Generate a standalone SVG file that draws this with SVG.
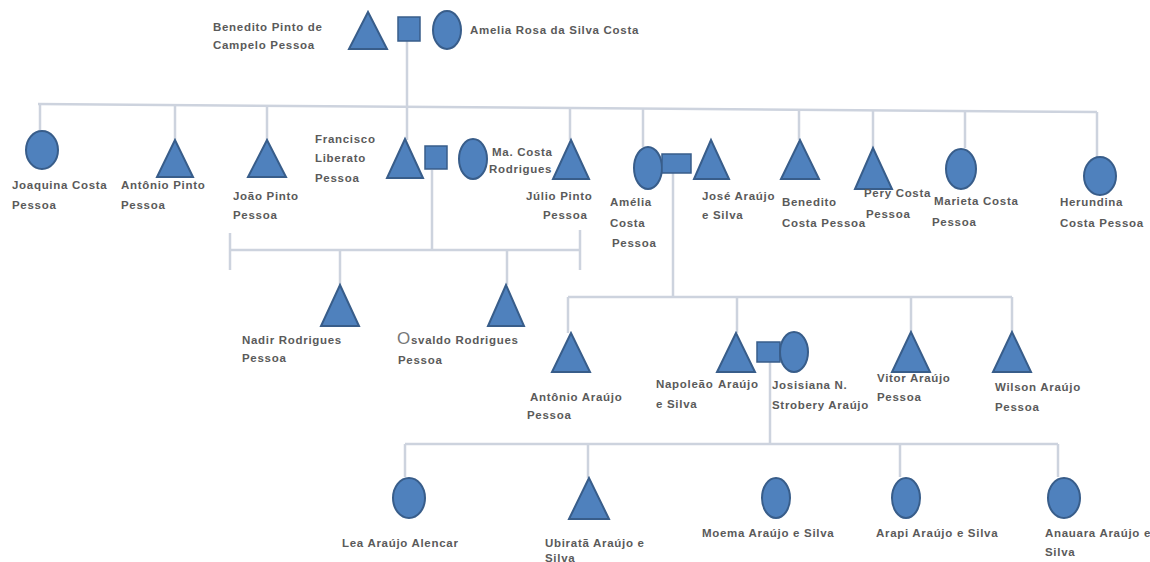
<svg xmlns="http://www.w3.org/2000/svg" width="1150" height="562" viewBox="0 0 1150 562">
<style>
.m{fill:#4f81bd;stroke:#385d8a;stroke-width:2}
.f{fill:#4f81bd;stroke:#385d8a;stroke-width:2}
.c{fill:#4f81bd;stroke:#385d8a;stroke-width:1.5}
.ln{stroke:#cdd3de;stroke-width:2.5;fill:none}
text{font-family:"Liberation Sans",Arial,sans-serif;font-size:11.5px;letter-spacing:0.7px;font-weight:bold;fill:#5a5a5a}
</style>
<rect width="1150" height="562" fill="#fff"/>
<g id="connectors">
<path class="ln" d="M407 40V140"/>
<path class="ln" d="M38 104L1097 112"/>
<path class="ln" d="M40 104V130M175 105V140M267 106V140M570 108V140M643 108V147M799 109V140M873 110V148M965 111V148M1097 112V157"/>
<path class="ln" d="M432 170V250M230 250H580M230 233V270M580 230V270M340 250V285M507 250V285"/>
<path class="ln" d="M673 172V297M568 297H1012M568 297V333M737 297V333M911 297V332M1012 297V332"/>
<path class="ln" d="M770 362V444M405 444H1058M405 444V477M588 444V478M900 444V477M1058 444V477"/>
</g>
<g id="n_benedito"><polygon class="m" points="368,12 349,49 387,49"/><text x="213" y="31">Benedito Pinto de</text><text x="213" y="49">Campelo Pessoa</text></g>
<g id="u_top"><rect class="c" x="398" y="17" width="22" height="24"/></g>
<g id="n_amelia_rosa"><ellipse class="f" cx="447" cy="30" rx="14" ry="19"/><text x="470" y="34">Amelia Rosa da Silva Costa</text></g>
<g id="n_joaquina"><ellipse class="f" cx="42" cy="150" rx="16" ry="19"/><text x="12" y="189">Joaquina Costa</text><text x="12" y="209">Pessoa</text></g>
<g id="n_antonio_pinto"><polygon class="m" points="175,140 157,177 193,177"/><text x="121" y="189">Antônio Pinto</text><text x="121" y="209">Pessoa</text></g>
<g id="n_joao"><polygon class="m" points="267,140 248,177 286,177"/><text x="233" y="200">João Pinto</text><text x="233" y="219">Pessoa</text></g>
<g id="n_francisco"><polygon class="m" points="405,139 387,178 423,178"/><text x="315" y="143">Francisco</text><text x="315" y="162">Liberato</text><text x="315" y="182">Pessoa</text></g>
<g id="u_francisco"><rect class="c" x="425" y="146" width="22" height="23"/></g>
<g id="n_ma_costa"><ellipse class="f" cx="473" cy="159" rx="14" ry="20"/><text x="492" y="156">Ma. Costa</text><text x="489" y="173">Rodrigues</text></g>
<g id="n_julio"><polygon class="m" points="571,140 553,179 589,179"/><text x="526" y="200">Júlio Pinto</text><text x="543" y="219">Pessoa</text></g>
<g id="n_amelia_costa"><ellipse class="f" cx="648" cy="168" rx="14" ry="21"/><text x="610" y="206">Amélia</text><text x="610" y="227">Costa</text><text x="612" y="247">Pessoa</text></g>
<g id="u_amelia"><rect class="c" x="662" y="154" width="29" height="19"/></g>
<g id="n_jose"><polygon class="m" points="711,140 694,179 729,179"/><text x="702" y="200">José Araújo</text><text x="702" y="219">e Silva</text></g>
<g id="n_benedito_costa"><polygon class="m" points="800,140 781,179 819,179"/><text x="782" y="206">Benedito</text><text x="782" y="227">Costa Pessoa</text></g>
<g id="n_pery"><polygon class="m" points="873,148 855,189 892,189"/><text x="864" y="197">Pery Costa</text><text x="866" y="218">Pessoa</text></g>
<g id="n_marieta"><ellipse class="f" cx="961" cy="169" rx="15" ry="20"/><text x="934" y="205">Marieta Costa</text><text x="932" y="226">Pessoa</text></g>
<g id="n_herundina"><ellipse class="f" cx="1100" cy="176" rx="16" ry="19"/><text x="1060" y="206">Herundina</text><text x="1060" y="227">Costa Pessoa</text></g>
<g id="n_nadir"><polygon class="m" points="340,285 321,326 359,326"/><text x="242" y="344">Nadir Rodrigues</text><text x="242" y="362">Pessoa</text></g>
<g id="n_osvaldo"><polygon class="m" points="506,285 488,326 524,326"/><text x="397" y="344"><tspan style="font-size:17px;font-weight:normal;fill:#777">O</tspan>svaldo Rodrigues</text><text x="398" y="364">Pessoa</text></g>
<g id="n_antonio_araujo"><polygon class="m" points="571,333 552,372 590,372"/><text x="530" y="401">Antônio Araújo</text><text x="527" y="419">Pessoa</text></g>
<g id="n_napoleao"><polygon class="m" points="736,333 717,372 755,372"/><text x="656" y="388">Napoleão</text><text x="718" y="388">Araújo</text><text x="656" y="408">e Silva</text></g>
<g id="u_napoleao"><rect class="c" x="757" y="342" width="23" height="20"/></g>
<g id="n_josisiana"><ellipse class="f" cx="794" cy="352" rx="14" ry="20"/><text x="772" y="389">Josisiana N.</text><text x="772" y="409">Strobery Araújo</text></g>
<g id="n_vitor"><polygon class="m" points="911,332 892,372 930,372"/><text x="877" y="382">Vitor Araújo</text><text x="877" y="401">Pessoa</text></g>
<g id="n_wilson"><polygon class="m" points="1012,332 993,372 1031,372"/><text x="995" y="391">Wilson Araújo</text><text x="995" y="411">Pessoa</text></g>
<g id="n_lea"><ellipse class="f" cx="409" cy="498" rx="16" ry="20"/><text x="342" y="547">Lea Araújo Alencar</text></g>
<g id="n_ubirata"><polygon class="m" points="589,478 569,519 609,519"/><text x="545" y="547">Ubiratã Araújo e</text><text x="545" y="562">Silva</text></g>
<g id="n_moema"><ellipse class="f" cx="776" cy="498" rx="14" ry="20"/><text x="702" y="537">Moema Araújo e Silva</text></g>
<g id="n_arapi"><ellipse class="f" cx="906" cy="498" rx="14" ry="20"/><text x="876" y="537">Arapi Araújo e Silva</text></g>
<g id="n_anauara"><ellipse class="f" cx="1064" cy="498" rx="16" ry="20"/><text x="1045" y="537">Anauara Araújo e</text><text x="1045" y="556">Silva</text></g>
</svg>
